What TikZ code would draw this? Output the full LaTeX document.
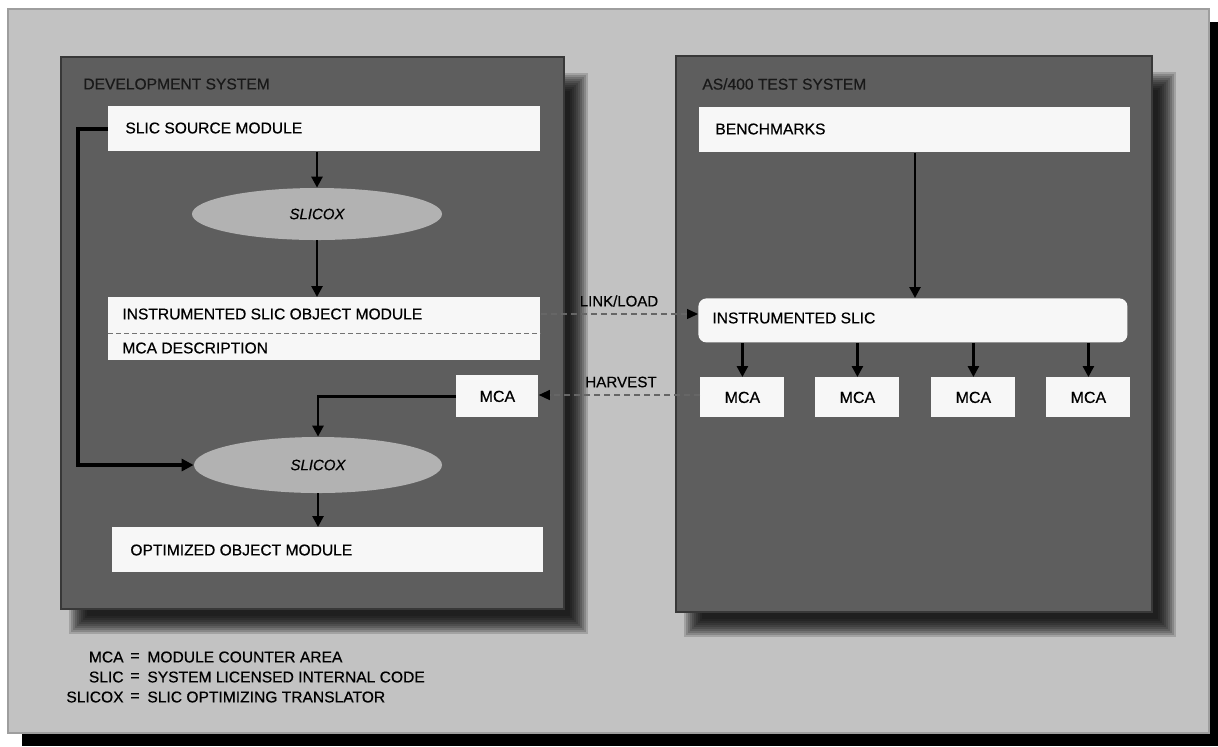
\documentclass[tikz,border=0pt]{standalone}
\usepackage{fontspec}
\setmainfont{Liberation Sans}[UprightFeatures={FakeBold=0.45}, ItalicFeatures={FakeBold=0.45}]
\usetikzlibrary{arrows.meta,shapes.geometric,calc}
\newcommand{\panelshadow}[4]{%
  \foreach \i in {0,...,9} {%
    \fill[black, opacity=0.16] (#1+8+2*\i, #2+16+2*\i) rectangle (#3+24-2*\i, #4+25-2*\i);
  }%
}
\begin{document}
\begin{tikzpicture}[x=0.5pt,y=-0.5pt,
  font=\fontsize{7.8}{9}\selectfont,
  panel/.style={fill=black!63, draw=black!78, line width=0.6pt},
  whitebox/.style={fill=black!3, draw=none, rectangle, inner sep=0pt, anchor=north west},
  txt/.style={inner sep=0pt, text=black},
  oval/.style={ellipse, fill=black!30, draw=none, inner sep=0pt, font=\fontsize{7.5}{9}\selectfont\itshape},
  flow/.style={line width=1.3pt, -{Triangle[length=5.5pt,width=5.5pt]}},
  fbflow/.style={line width=1.6pt, -{Triangle[length=6pt,width=6pt]}},
  dflow/.style={draw=black!60, line width=0.6pt, dash pattern=on 3pt off 2pt, -{Triangle[length=5.5pt,width=5pt,color=black]}}
]
\useasboundingbox (0,0) rectangle (1218,746);
\fill[white] (0,0) rectangle (1218,746);
% outer frame with its black shadow
\fill[black] (22,22) rectangle (1218,746);
\fill[black!24] (7,8) rectangle (1210,734);
\draw[black!38, line width=1.2pt] (8,9) rectangle (1209,733);

% panels
\panelshadow{61}{57}{564}{609}
\panelshadow{676}{56}{1152}{612}
\fill[panel] (61,57) rectangle (564,609);
\fill[panel] (676,56) rectangle (1152,612);
\draw[black!78, line width=0.6pt] (61,57) rectangle (564,609);
\draw[black!78, line width=0.6pt] (676,56) rectangle (1152,612);

% ---------- development system ----------
\node[txt, anchor=west, text=black!90] (devT) at (83,84) {DEVELOPMENT SYSTEM};
\node[whitebox, minimum width=216pt, minimum height=22.5pt] (src) at (108,106) {};
\node[txt, anchor=west] (srcT) at (125,128) {SLIC SOURCE MODULE};
\node[oval, minimum width=125pt, minimum height=26pt] (ox1) at (317,214) {SLICOX};
\node[whitebox, minimum width=216pt, minimum height=31.5pt] (iso) at (108,297) {};
\node[txt, anchor=west] (isoT) at (122,314) {INSTRUMENTED SLIC OBJECT MODULE};
\node[txt, anchor=west] (mdT) at (122,348) {MCA DESCRIPTION};
\coordinate (dv) at (0,333);
\draw[black!55, line width=0.5pt, dash pattern=on 2.5pt off 1.5pt] (iso.west |- dv) -- (iso.east |- dv);
\node[whitebox, minimum width=41pt, minimum height=21pt, font=\fontsize{8}{9}\selectfont] (mcaL) at (456,375) {MCA};
\node[oval, minimum width=124pt, minimum height=28pt] (ox2) at (318,465) {SLICOX};
\node[whitebox, minimum width=215.5pt, minimum height=22.5pt] (opt) at (112,527) {};
\node[txt, anchor=west] (optT) at (130,550) {OPTIMIZED OBJECT MODULE};

\draw[flow] (src.south -| ox1.north) -- (ox1.north);
\draw[flow] (ox1.south) -- (iso.north -| ox1.south);
\draw[flow] (mcaL.west) -| (ox2.north);
\coordinate (fb) at (78,0);
\draw[fbflow] (src.west) -- (src.west -| fb) |- (ox2.west);
\draw[flow] (ox2.south) -- (opt.north -| ox2.south);

% ---------- AS/400 test system ----------
\node[txt, anchor=west, text=black!90] (asT) at (702,84) {AS/400 TEST SYSTEM};
\node[whitebox, minimum width=215.5pt, minimum height=22.5pt] (bench) at (699,107) {};
\node[txt, anchor=west] (benchT) at (715,129) {BENCHMARKS};
\node[whitebox, rounded corners=4pt, minimum width=214.5pt, minimum height=22pt] (islic) at (698,298) {};
\node[txt, anchor=west] (islicT) at (712,318) {INSTRUMENTED SLIC};
\coordinate (bx) at (915,0);
\draw[flow] (bench.south -| bx) -- (islic.north -| bx);
\foreach \n/\x in {m1/700, m2/815, m3/931, m4/1046} {
  \node[whitebox, minimum width=42pt, minimum height=20pt, font=\fontsize{8}{9}\selectfont] (\n) at (\x,377) {MCA};
  \draw[flow] (islic.south -| \n.north) -- (\n.north);
}

% ---------- connectors between systems ----------
\coordinate (ll) at (0,314);
\draw[dflow] (iso.east |- ll) -- (islic.west |- ll);
\node[txt, font=\fontsize{7.5}{9}\selectfont] (llT) at (619,301) {LINK/LOAD};
\coordinate (hv) at (0,395);
\draw[dflow] (m1.west |- hv) -- (mcaL.east |- hv);
\node[txt, font=\fontsize{7.6}{9}\selectfont] (hvT) at (621,382) {HARVEST};

% ---------- legend ----------
\foreach \k/\y/\a/\b in {l1/657/MCA/MODULE COUNTER AREA, l2/677/SLIC/SYSTEM LICENSED INTERNAL CODE, l3/697/SLICOX/SLIC OPTIMIZING TRANSLATOR} {
  \node[txt, anchor=east] (\k a) at (124,\y) {\a};
  \node[txt] (\k e) at (135,\y) {=};
  \node[txt, anchor=west] (\k b) at (147,\y) {\b};
}
\end{tikzpicture}
\end{document}
